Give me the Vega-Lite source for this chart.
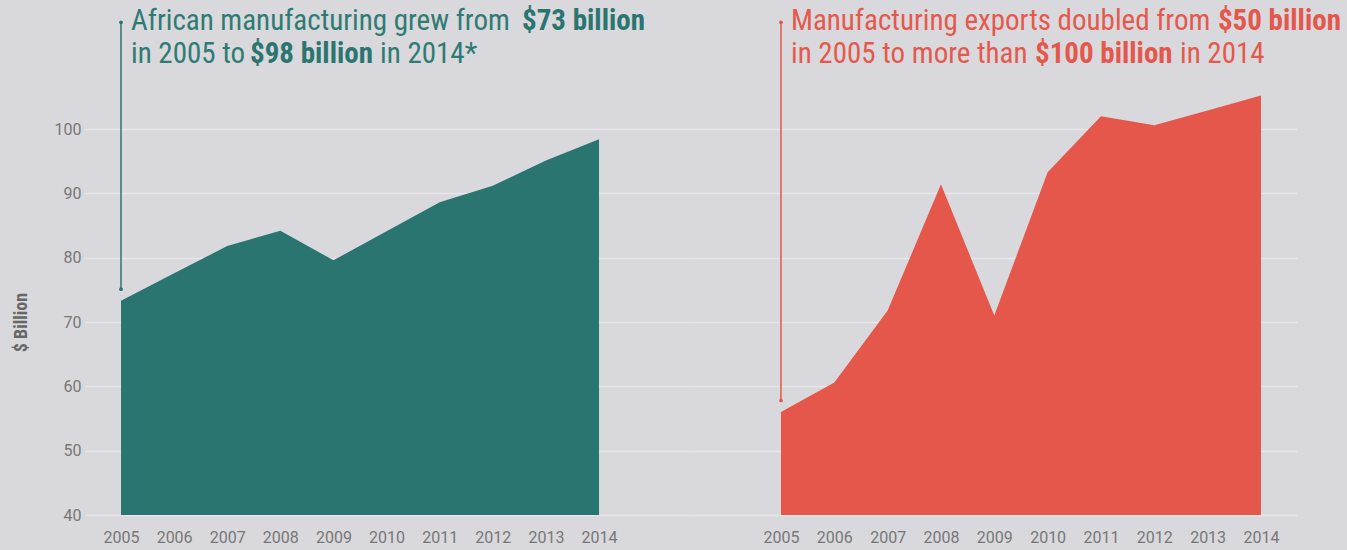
{
  "$schema": "https://vega.github.io/schema/vega-lite/v6.json",
  "background": "#d9d8dc",
  "padding": {"left": 12, "top": 0, "right": 9, "bottom": 6},
  "spacing": 0,
  "config": {
    "view": {"stroke": null},
    "font": "Roboto",
    "axis": {
      "domain": false,
      "ticks": false,
      "tickSize": 0,
      "grid": false,
      "labelFont": "Roboto",
      "labelFontSize": 16,
      "labelColor": "#777777",
      "gridColor": "#e7e6ea",
      "gridWidth": 1.5
    }
  },
  "datasets": {
    "africa": [
      {"year": 2005, "value": 73.3},
      {"year": 2006, "value": 77.6},
      {"year": 2007, "value": 81.8},
      {"year": 2008, "value": 84.2},
      {"year": 2009, "value": 79.6},
      {"year": 2010, "value": 84.1},
      {"year": 2011, "value": 88.6},
      {"year": 2012, "value": 91.2},
      {"year": 2013, "value": 95.1},
      {"year": 2014, "value": 98.4}
    ],
    "exports": [
      {"year": 2005, "value": 56.0},
      {"year": 2006, "value": 60.6},
      {"year": 2007, "value": 71.8},
      {"year": 2008, "value": 91.4},
      {"year": 2009, "value": 71.0},
      {"year": 2010, "value": 93.3},
      {"year": 2011, "value": 102.0},
      {"year": 2012, "value": 100.6},
      {"year": 2013, "value": 102.9},
      {"year": 2014, "value": 105.2}
    ],
    "markers": [
      {"panel": "africa", "year": 2005, "top": 116.6, "bottom": 75.1},
      {"panel": "exports", "year": 2005, "top": 116.6, "bottom": 57.8}
    ],
    "notes": [
      {"panel": "africa", "x": 2005.188, "y": 115.39, "label": "African manufacturing grew from", "bold": false},
      {"panel": "africa", "x": 2012.55, "y": 115.39, "label": "$73 billion", "bold": true},
      {"panel": "africa", "x": 2005.188, "y": 110.26, "label": "in 2005 to", "bold": false},
      {"panel": "africa", "x": 2007.429, "y": 110.26, "label": "$98 billion", "bold": true},
      {"panel": "africa", "x": 2009.877, "y": 110.26, "label": "in 2014*", "bold": false},
      {"panel": "exports", "x": 2005.188, "y": 115.39, "label": "Manufacturing exports doubled from", "bold": false},
      {"panel": "exports", "x": 2013.194, "y": 115.39, "label": "$50 billion", "bold": true},
      {"panel": "exports", "x": 2005.188, "y": 110.26, "label": "in 2005 to more than", "bold": false},
      {"panel": "exports", "x": 2009.763, "y": 110.26, "label": "$100 billion", "bold": true},
      {"panel": "exports", "x": 2012.482, "y": 110.26, "label": "in 2014", "bold": false}
    ]
  },
  "hconcat": [
    {
      "width": 605,
      "height": 515,
      "encoding": {
        "x": {
          "type": "quantitative",
          "scale": {"domain": [2004.322, 2015.713], "nice": false, "zero": false},
          "axis": {"values": [2005, 2006, 2007, 2008, 2009, 2010, 2011, 2012, 2013, 2014], "format": "d", "title": null, "labelPadding": 14}
        },
        "y": {
          "type": "quantitative",
          "scale": {"domain": [40, 120.06], "nice": false, "zero": false},
          "axis": {
            "values": [40, 50, 60, 70, 80, 90, 100],
            "grid": true,
            "title": "$ Billion",
            "titleFont": "Roboto Condensed, Roboto",
            "titleFontSize": 18,
            "titleFontWeight": "bold",
            "titleColor": "#666666",
            "titlePadding": 24,
            "titleY": 322,
            "labelPadding": 4
          }
        }
      },
      "layer": [
        {
          "data": {"name": "africa"},
          "mark": {"type": "area", "color": "#2a7570", "opacity": 1},
          "encoding": {
            "x": {"field": "year"},
            "y": {"field": "value"},
            "y2": {"datum": 40}
          }
        },
        {
          "data": {"name": "markers"},
          "transform": [{"filter": "datum.panel === 'africa'"}],
          "mark": {"type": "rule", "color": "#2a7570", "strokeWidth": 1.5},
          "encoding": {
            "x": {"field": "year"},
            "y": {"field": "top"},
            "y2": {"field": "bottom"}
          }
        },
        {
          "data": {"name": "markers"},
          "transform": [{"filter": "datum.panel === 'africa'"}, {"fold": ["top", "bottom"], "as": ["end", "pos"]}],
          "mark": {"type": "point", "filled": true, "color": "#2a7570", "size": 14, "opacity": 1},
          "encoding": {
            "x": {"field": "year"},
            "y": {"field": "pos"}
          }
        },
        {
          "data": {"name": "notes"},
          "transform": [{"filter": "datum.panel === 'africa' && !datum.bold"}],
          "mark": {"type": "text", "align": "left", "baseline": "alphabetic", "font": "Roboto Condensed, Liberation Sans Narrow, DejaVu Sans Condensed, Roboto", "fontSize": 29, "color": "#2e7b73"},
          "encoding": {
            "x": {"field": "x"},
            "y": {"field": "y"},
            "text": {"field": "label"}
          }
        },
        {
          "data": {"name": "notes"},
          "transform": [{"filter": "datum.panel === 'africa' && datum.bold"}],
          "mark": {"type": "text", "align": "left", "baseline": "alphabetic", "font": "Roboto Condensed, Liberation Sans Narrow, DejaVu Sans Condensed, Roboto", "fontSize": 29, "fontWeight": "bold", "color": "#2a7570"},
          "encoding": {
            "x": {"field": "x"},
            "y": {"field": "y"},
            "text": {"field": "label"}
          }
        }
      ]
    },
    {
      "width": 607,
      "height": 515,
      "encoding": {
        "x": {
          "type": "quantitative",
          "scale": {"domain": [2003.294, 2014.676], "nice": false, "zero": false},
          "axis": {"values": [2005, 2006, 2007, 2008, 2009, 2010, 2011, 2012, 2013, 2014], "format": "d", "title": null, "labelPadding": 14}
        },
        "y": {
          "type": "quantitative",
          "scale": {"domain": [40, 120.06], "nice": false, "zero": false},
          "axis": {
            "values": [40, 50, 60, 70, 80, 90, 100],
            "grid": true,
            "labels": false,
            "title": null
          }
        }
      },
      "layer": [
        {
          "data": {"name": "exports"},
          "mark": {"type": "area", "color": "#e4574a", "opacity": 1},
          "encoding": {
            "x": {"field": "year"},
            "y": {"field": "value"},
            "y2": {"datum": 40}
          }
        },
        {
          "data": {"name": "markers"},
          "transform": [{"filter": "datum.panel === 'exports'"}],
          "mark": {"type": "rule", "color": "#e4574a", "strokeWidth": 1.5},
          "encoding": {
            "x": {"field": "year"},
            "y": {"field": "top"},
            "y2": {"field": "bottom"}
          }
        },
        {
          "data": {"name": "markers"},
          "transform": [{"filter": "datum.panel === 'exports'"}, {"fold": ["top", "bottom"], "as": ["end", "pos"]}],
          "mark": {"type": "point", "filled": true, "color": "#e4574a", "size": 14, "opacity": 1},
          "encoding": {
            "x": {"field": "year"},
            "y": {"field": "pos"}
          }
        },
        {
          "data": {"name": "notes"},
          "transform": [{"filter": "datum.panel === 'exports' && !datum.bold"}],
          "mark": {"type": "text", "align": "left", "baseline": "alphabetic", "font": "Roboto Condensed, Liberation Sans Narrow, DejaVu Sans Condensed, Roboto", "fontSize": 29, "color": "#e5594c"},
          "encoding": {
            "x": {"field": "x"},
            "y": {"field": "y"},
            "text": {"field": "label"}
          }
        },
        {
          "data": {"name": "notes"},
          "transform": [{"filter": "datum.panel === 'exports' && datum.bold"}],
          "mark": {"type": "text", "align": "left", "baseline": "alphabetic", "font": "Roboto Condensed, Liberation Sans Narrow, DejaVu Sans Condensed, Roboto", "fontSize": 29, "fontWeight": "bold", "color": "#e4574a"},
          "encoding": {
            "x": {"field": "x"},
            "y": {"field": "y"},
            "text": {"field": "label"}
          }
        }
      ]
    }
  ]
}
